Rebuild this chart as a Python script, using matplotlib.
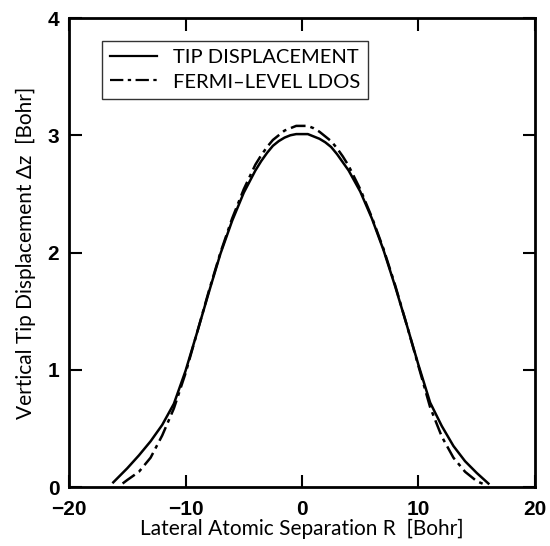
import numpy as np
import matplotlib
matplotlib.use("Agg")
import matplotlib.pyplot as plt

# solid curve: tip displacement
r_tip = [-16.2, -15, -14, -13, -12, -11, -10, -9, -8, -7, -6, -5, -4, -3.5, -3, -2.5, -2, -1.5, -1, -0.5, 0,
         0.5, 1, 1.5, 2, 2.5, 3, 3.5, 4, 5, 6, 7, 8, 9, 10, 11, 12, 13, 14, 15, 16.0]
dz_tip = [0.04, 0.16, 0.27, 0.39, 0.53, 0.71, 0.99, 1.32, 1.66, 1.99, 2.27, 2.51, 2.70, 2.78, 2.85, 2.91, 2.95, 2.98, 3.00, 3.01, 3.01,
          3.01, 2.99, 2.97, 2.94, 2.90, 2.84, 2.77, 2.70, 2.52, 2.29, 2.02, 1.71, 1.38, 1.04, 0.72, 0.52, 0.35, 0.22, 0.12, 0.03]

# dash-dot curve: Fermi-level LDOS
r_ldos = [-15.4, -15, -14, -13, -12, -11, -10, -9, -8, -7, -6, -5, -4, -3.5, -3, -2.5, -2, -1.5, -1, -0.5, 0,
          0.5, 1, 1.5, 2, 2.5, 3, 3.5, 4, 5, 6, 7, 8, 9, 10, 11, 12, 13, 14, 15, 15.7]
dz_ldos = [0.03, 0.06, 0.13, 0.25, 0.44, 0.67, 0.97, 1.32, 1.67, 2.00, 2.29, 2.54, 2.75, 2.83, 2.90, 2.96, 3.00, 3.04, 3.06, 3.08, 3.08,
           3.08, 3.06, 3.03, 2.99, 2.95, 2.89, 2.82, 2.74, 2.54, 2.30, 2.03, 1.72, 1.38, 1.03, 0.68, 0.43, 0.25, 0.13, 0.05, 0.02]

xticks = [-20, -10, 0, 10, 20]
yticks = [0, 1, 2, 3, 4]

fig = plt.figure(figsize=(5.5, 5.46), dpi=100)
ax = fig.add_axes([0.1255, 0.108, 0.8472, 0.859])

ax.plot(r_tip, dz_tip, color="black", lw=1.8, label="TIP DISPLACEMENT")
ax.plot(r_ldos, dz_ldos, color="black", lw=1.8, dashes=(6, 2, 1.5, 2),
        label="FERMI\u2013LEVEL LDOS")

ax.set_xlim(-20, 20)
ax.set_ylim(0, 4)
ax.set_xticks(xticks)
ax.set_yticks(yticks)
ax.set_xticklabels([str(t).replace("-", "\u2212") for t in xticks],
                   fontfamily="Liberation Sans", fontweight="bold", fontsize=15)
ax.set_yticklabels([str(t) for t in yticks],
                   fontfamily="Liberation Sans", fontweight="bold", fontsize=15)
ax.tick_params(direction="in", length=9, width=1.5, top=True, right=True)
ax.tick_params(axis="x", pad=9)
ax.tick_params(axis="y", pad=7)
for s in ax.spines.values():
    s.set_linewidth(2)

ax.set_xlabel("Lateral Atomic Separation R  [Bohr]", fontfamily="Lato", fontsize=15, labelpad=0)
ax.set_ylabel("Vertical Tip Displacement \u0394z  [Bohr]", fontfamily="Lato", fontsize=15, labelpad=8)

leg = ax.legend(loc="upper left", bbox_to_anchor=(0.05, 0.972), frameon=True, fancybox=False,
                edgecolor="black", prop={"family": "Lato", "size": 14.5}, handlelength=2.3,
                borderpad=0.4, labelspacing=0.35, handletextpad=0.8)
leg.get_frame().set_linewidth(1.0)
for ln in leg.get_lines():
    ln.set_linewidth(1.6)

fig.savefig("out.png", dpi=100)
